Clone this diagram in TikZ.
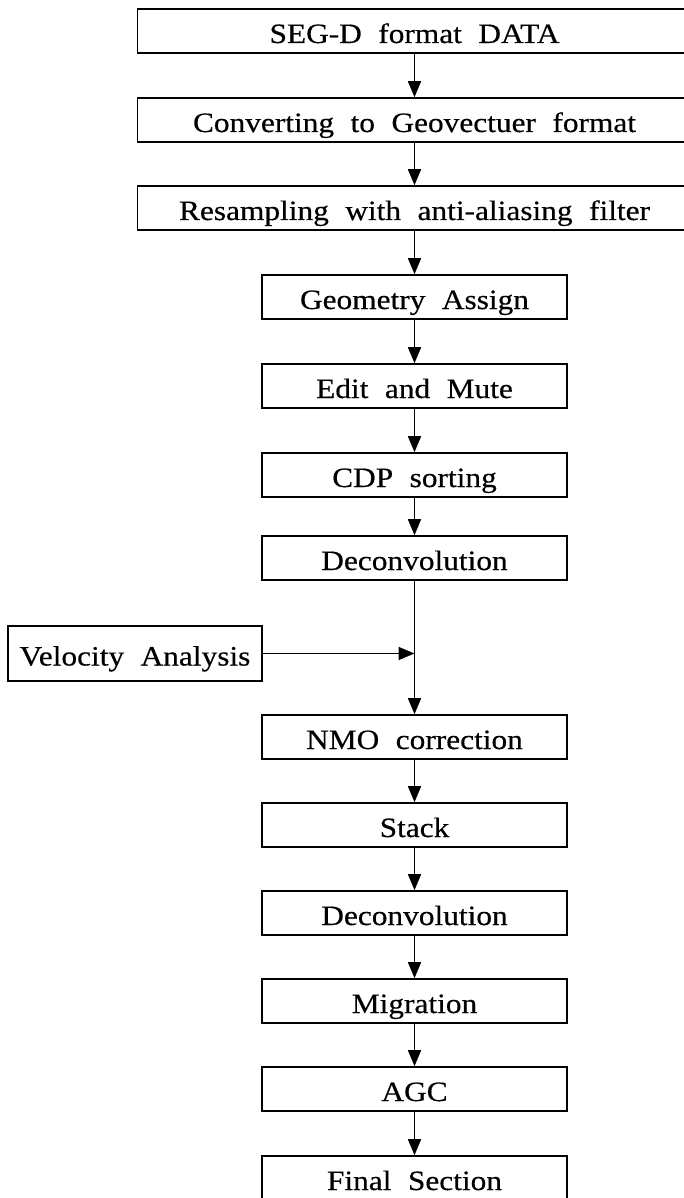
\documentclass[tikz,border=0pt]{standalone}
\usepackage{fontspec}
\setmainfont{Liberation Serif}[FakeStretch=1.12, WordSpace=2.1, FakeBold=0.4]
\usetikzlibrary{arrows.meta}
\begin{document}
\begin{tikzpicture}[x=1pt,y=-1pt,
  box/.style={draw, line width=1.6pt, minimum height=44pt, inner sep=0pt,
    text height=24pt, text depth=0pt, font=\fontsize{28pt}{30pt}\selectfont},
  mainbox/.style={box, minimum width=305pt},
  widebox/.style={box, minimum width=554pt},
  arr/.style={line width=1.6pt, -{Triangle[width=13pt,length=16pt]}}]
\useasboundingbox (0,0) rectangle (684,1198);
\clip (0,0) rectangle (684,1198);
\fill[white] (0,0) rectangle (684,1198);
\node[widebox] (n1) at (414.5,31) {SEG-D format DATA};
\node[widebox] (n2) at (414.5,120) {Converting to Geovectuer format};
\node[widebox] (n3) at (414.5,208) {Resampling with anti-aliasing filter};
\node[mainbox] (n4) at (414.5,297) {Geometry Assign};
\node[mainbox] (n5) at (414.5,386) {Edit and Mute};
\node[mainbox] (n6) at (414.5,475) {CDP sorting};
\node[mainbox] (n7) at (414.5,558) {Deconvolution};
\node[box, minimum width=254pt, minimum height=55pt] (vel) at (135,653.5) {Velocity Analysis};
\node[mainbox] (n8) at (414.5,737) {NMO correction};
\node[mainbox] (n9) at (414.5,825) {Stack};
\node[mainbox] (n10) at (414.5,913) {Deconvolution};
\node[mainbox] (n11) at (414.5,1001) {Migration};
\node[mainbox] (n12) at (414.5,1089) {AGC};
\node[mainbox] (n13) at (414.5,1178) {Final Section};
\coordinate (j) at (414.5,653.5);
\draw[arr] (n1) -- (n2);
\draw[arr] (n2) -- (n3);
\draw[arr] (n3) -- (n4);
\draw[arr] (n4) -- (n5);
\draw[arr] (n5) -- (n6);
\draw[arr] (n6) -- (n7);
\draw[arr] (n7) -- (n8);
\draw[arr] (vel.east) -- (j);
\draw[arr] (n8) -- (n9);
\draw[arr] (n9) -- (n10);
\draw[arr] (n10) -- (n11);
\draw[arr] (n11) -- (n12);
\draw[arr] (n12) -- (n13);
\end{tikzpicture}
\end{document}
